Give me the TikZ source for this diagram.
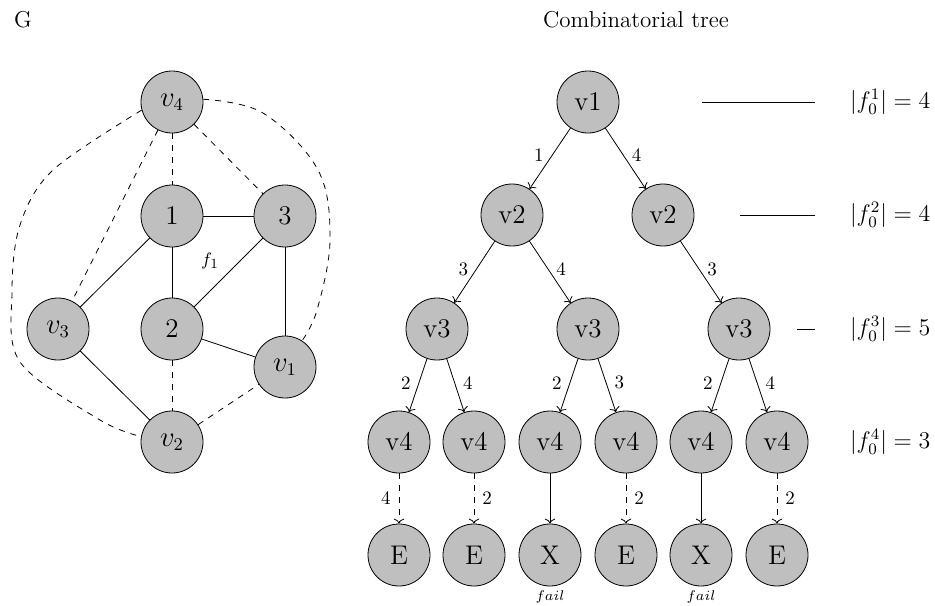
\documentclass[tikz,border=0pt]{standalone}
\usetikzlibrary{arrows.meta}
\begin{document}
\begin{tikzpicture}[x=0.5pt,y=-0.5pt,
  vtx/.style={circle,draw,fill=gray!50,minimum size=31pt,inner sep=0pt,font=\fontsize{13.5}{15}\selectfont},
  elab/.style={font=\fontsize{9.5}{11}\selectfont,inner sep=1pt},
  ttl/.style={font=\fontsize{11.5}{13}\selectfont},
  lvl/.style={font=\fontsize{11.5}{13}\selectfont,anchor=west},
  failtxt/.style={font=\fontsize{7.5}{8}\selectfont}]
\useasboundingbox (0,0) rectangle (935,605);

% titles
\node[ttl,anchor=west] (tG) at (7,20) {G};
\node[ttl] (tT) at (636,20) {Combinatorial tree};

% ---------- graph G ----------
\node[vtx] (gv4) at (172,102) {$v_4$};
\node[vtx] (g1) at (172,216) {1};
\node[vtx] (g3) at (285,216) {3};
\node[vtx] (gv3) at (58,329) {$v_3$};
\node[vtx] (g2) at (172,329) {2};
\node[vtx] (gv1) at (285,367) {$v_1$};
\node[vtx] (gv2) at (172,442) {$v_2$};
\node[elab] (f1) at (210,261) {$f_1$};

\draw (g1) -- (g3);
\draw (g1) -- (g2);
\draw (g1) -- (gv3);
\draw (g3) -- (g2);
\draw (g3) -- (gv1);
\draw (g2) -- (gv1);
\draw (gv3) -- (gv2);

\draw[dashed] (gv4) -- (g1);
\draw[dashed] (gv4) -- (g3);
\draw[dashed] (gv4) -- (gv3);
\draw[dashed] (g2) -- (gv2);
\draw[dashed] (gv2) -- (gv1);

\draw[dashed] plot[smooth,tension=0.55] coordinates {(gv4.195) (53,170) (20,225) (12,292) (20,362) (100,420) (gv2.170)};
\draw[dashed] plot[smooth,tension=0.6] coordinates {(gv4.5) (263,113) (318,170) (330,240) (317,310) (gv1.57)};

% ---------- tree ----------
\node[vtx] (t1) at (588,102) {v1};
\node[vtx] (t2a) at (512,215) {v2};
\node[vtx] (t2b) at (663,215) {v2};
\node[vtx] (t3a) at (437,329) {v3};
\node[vtx] (t3b) at (588,329) {v3};
\node[vtx] (t3c) at (739,329) {v3};
\node[vtx] (t4a) at (399,442) {v4};
\node[vtx] (t4b) at (474,442) {v4};
\node[vtx] (t4c) at (550,442) {v4};
\node[vtx] (t4d) at (626,442) {v4};
\node[vtx] (t4e) at (701,442) {v4};
\node[vtx] (t4f) at (777,442) {v4};
\node[vtx] (l1) at (399,555) {E};
\node[vtx] (l2) at (474,555) {E};
\node[vtx] (l3) at (550,555) {X};
\node[vtx] (l4) at (626,555) {E};
\node[vtx] (l5) at (701,555) {X};
\node[vtx] (l6) at (777,555) {E};
\node[failtxt] (fa) at (550,597) {$fail$};
\node[failtxt] (fb) at (701,597) {$fail$};

\draw[->] (t1) -- node[elab,pos=0.45,left=3pt] {1} (t2a);
\draw[->] (t1) -- node[elab,pos=0.45,right=3pt] {4} (t2b);
\draw[->] (t2a) -- node[elab,pos=0.45,left=3pt] {3} (t3a);
\draw[->] (t2a) -- node[elab,pos=0.45,right=3pt] {4} (t3b);
\draw[->] (t2b) -- node[elab,pos=0.45,right=3pt] {3} (t3c);
\draw[->] (t3a) -- node[elab,pos=0.45,left=3pt] {2} (t4a);
\draw[->] (t3a) -- node[elab,pos=0.45,right=3pt] {4} (t4b);
\draw[->] (t3b) -- node[elab,pos=0.45,left=3pt] {2} (t4c);
\draw[->] (t3b) -- node[elab,pos=0.45,right=3pt] {3} (t4d);
\draw[->] (t3c) -- node[elab,pos=0.45,left=3pt] {2} (t4e);
\draw[->] (t3c) -- node[elab,pos=0.45,right=3pt] {4} (t4f);

\draw[->,dashed] (t4a) -- node[elab,left=3pt] {4} (l1);
\draw[->,dashed] (t4b) -- node[elab,right=3pt] {2} (l2);
\draw[->] (t4c) -- (l3);
\draw[->,dashed] (t4d) -- node[elab,right=3pt] {2} (l4);
\draw[->] (t4e) -- (l5);
\draw[->,dashed] (t4f) -- node[elab,right=3pt] {2} (l6);

% ---------- level counts ----------
\coordinate (h1a) at (702,102); \coordinate (h1b) at (815,102);
\coordinate (h2a) at (740,215); \coordinate (h2b) at (815,215);
\coordinate (h3a) at (797,329); \coordinate (h3b) at (815,329);
\draw (h1a) -- (h1b);
\draw (h2a) -- (h2b);
\draw (h3a) -- (h3b);
\node[lvl] (c1) at (843,102) {$\left|f_0^1\right| = 4$};
\node[lvl] (c2) at (843,215) {$\left|f_0^2\right| = 4$};
\node[lvl] (c3) at (843,329) {$\left|f_0^3\right| = 5$};
\node[lvl] (c4) at (843,442) {$\left|f_0^4\right| = 3$};
\end{tikzpicture}
\end{document}
